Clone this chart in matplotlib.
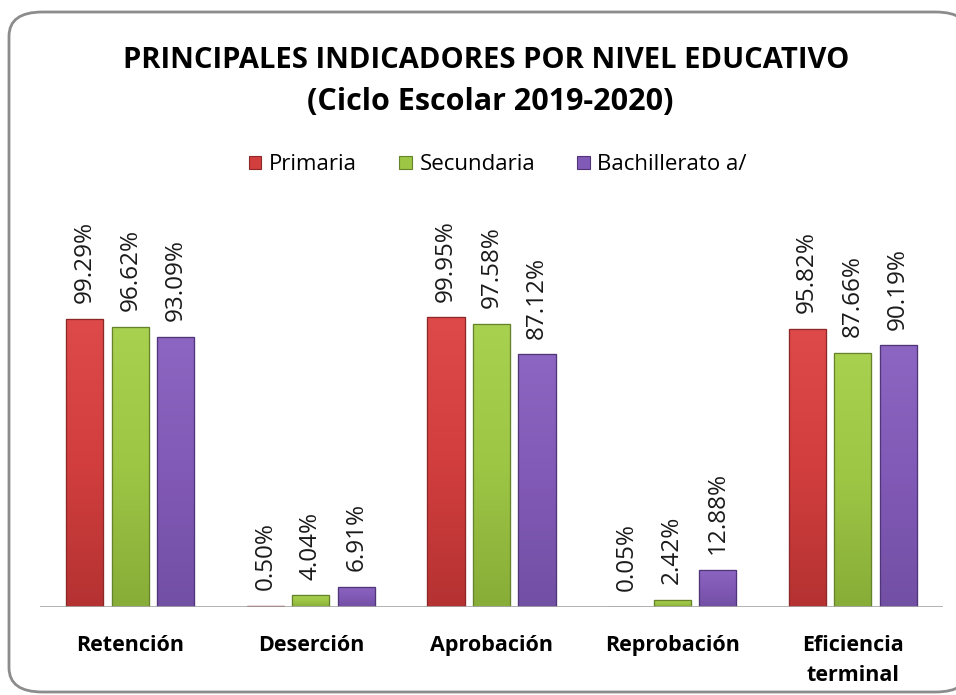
import numpy as np
import matplotlib.pyplot as plt
from matplotlib.patches import FancyBboxPatch
from matplotlib.colors import LinearSegmentedColormap

categories = ["Retención", "Deserción", "Aprobación", "Reprobación", "Eficiencia\nterminal"]
series_names = ["Primaria", "Secundaria", "Bachillerato a/"]
primaria = [99.29, 0.50, 99.95, 0.05, 95.82]
secundaria = [96.62, 4.04, 97.58, 2.42, 87.66]
bachillerato = [93.09, 6.91, 87.12, 12.88, 90.19]

colors = ["#D23E3E", "#9DC645", "#8159B6"]
tops = ["#DE4A4A", "#A9D150", "#8C66C2"]
bottoms = ["#B53232", "#88AD38", "#7250A4"]
edges = ["#8E2828", "#66822A", "#503578"]

plt.rcParams['font.family'] = ['Open Sans', 'DejaVu Sans']

fig = plt.figure(figsize=(9.56, 6.95), dpi=100)
fig.patch.set_facecolor("white")

# rounded frame
frame = FancyBboxPatch((9 / 956, 3 / 695), 960 / 956, 680 / 695,
                       boxstyle="round,pad=0,rounding_size=0.035",
                       transform=fig.transFigure, facecolor="white",
                       edgecolor="#8C8C8C", linewidth=2.0, zorder=-5)
fig.patches.append(frame)

ax = fig.add_axes([40 / 956, (695 - 607) / 695, 903 / 956, 330 / 695])
ax.set_facecolor("none")
ax.set_zorder(2)

x = np.arange(len(categories))
width = 0.205
offset = 0.252
data = [primaria, secundaria, bachillerato]
grad = np.linspace(1, 0, 256).reshape(-1, 1)
for i, vals in enumerate(data):
    pos = x + (i - 1) * offset
    bars = ax.bar(pos, vals, width, color=colors[i], edgecolor=edges[i], linewidth=0.8,
                  label=series_names[i], zorder=3)
    cmap = LinearSegmentedColormap.from_list(f"g{i}", [bottoms[i], colors[i], tops[i]])
    for b in bars:
        bx, by = b.get_x(), b.get_y()
        bw, bh = b.get_width(), b.get_height()
        im = ax.imshow(grad, cmap=cmap, aspect="auto", zorder=3.5,
                       extent=(bx, bx + bw, by, by + bh), interpolation="bicubic")
        im.set_clip_path(b)
        ax.bar(bx + bw / 2, bh, bw, bottom=by, facecolor="none",
               edgecolor=edges[i], linewidth=0.9, zorder=3.6)
    for px, v in zip(pos, vals):
        ax.text(px, v + 5.4, f"{v:.2f}%", rotation=90, ha="center", va="bottom",
                fontsize=17.5, color="#1a1a1a", clip_on=False)

ax.set_xlim(-0.5, 4.5)
ax.set_ylim(0, 113.8)
ax.axhline(0, color="#A6A6A6", linewidth=1.2, zorder=4)
ax.set_yticks([])
ax.set_xticks(x)
ax.set_xticklabels(categories, fontsize=15.5, fontweight="bold", linespacing=1.6)
ax.tick_params(axis="x", length=0, pad=20)
for s in ax.spines.values():
    s.set_visible(False)

fig.text(486 / 956, 1 - 60 / 695, "PRINCIPALES INDICADORES POR NIVEL EDUCATIVO",
         ha="center", va="center", fontsize=21, fontweight="bold")
fig.text(490 / 956, 1 - 102 / 695, "(Ciclo Escolar 2019-2020)",
         ha="center", va="center", fontsize=22, fontweight="bold")

leg = fig.legend(loc="center", bbox_to_anchor=(498 / 956, 1 - 165 / 695), ncol=3,
                 frameon=False, fontsize=16, handlelength=0.55, handleheight=0.55,
                 handletextpad=0.35, columnspacing=1.9)

fig.savefig("out.png", dpi=100)
